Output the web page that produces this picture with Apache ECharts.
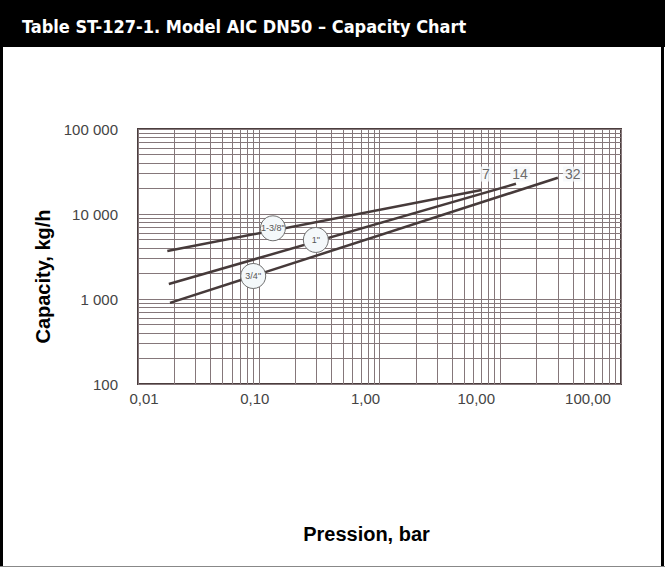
<!DOCTYPE html>
<html>
<head>
<meta charset="utf-8">
<script src="https://cdn.jsdelivr.net/npm/echarts@6/dist/echarts.min.js"></script>
<style>
html,body{margin:0;padding:0;background:#fff;}
#chart{width:665px;height:568px;}
</style>
</head>
<body>
<div id="chart"></div>
<script>
// ---- data ----
const titleText = 'Table ST-127-1. Model AIC DN50 – Capacity Chart';
const xAxisTitle = 'Pression, bar';
const yAxisTitle = 'Capacity, kg/h';
const xTicks = [0.01, 0.1, 1, 10, 100];
const xTickLabels = ['0,01', '0,10', '1,00', '10,00', '100,00'];
const yTicks = [100, 1000, 10000, 100000];
const yTickLabels = ['100', '1 000', '10 000', '100 000'];

const sizes = ['1-3/8"', '1"', '3/4"'];
const startPressure = [0.0175, 0.018, 0.0184];
const startCapacity = [3670, 1500, 900];
const endPressure = [7, 13.5, 30];
const endCapacity = [19150, 22700, 26700];
const sizeLabelPressure = [0.131, 0.297, 0.090];
const sizeLabelCapacity = [6790, 4950, 1865];
const maxPressureLabels = ['7', '14', '32'];
const maxLabelPressure = [7.6, 14.6, 39.8];
const maxLabelCapacity = [29500, 29500, 29500];

// label horizontal offsets (px) as printed in the reference
const xLabelShift = [6, -4, -14, -24, -33];

// ---- minor gridlines (2..9 per decade) ----
const minorX = [];
for (let e = -2; e < 2; e++) for (let m = 2; m <= 9; m++) minorX.push(m * Math.pow(10, e));
const minorY = [];
for (let e = 2; e < 5; e++) for (let m = 2; m <= 9; m++) minorY.push(m * Math.pow(10, e));

const gridColor = '#85777a';
const lineColor = '#463a3a';
const labelFont = 'Liberation Sans, Arial, sans-serif';

const chart = echarts.init(document.getElementById('chart'), null, {renderer: 'svg'});

const rich = {};
xLabelShift.forEach((s, i) => {
  rich['l' + i] = {
    fontFamily: labelFont,
    fontSize: 15,
    color: '#444',
    padding: s >= 0 ? [0, 0, 0, 2 * s] : [0, -2 * s, 0, 0]
  };
});

function fmtX(v) {
  for (let i = 0; i < xTicks.length; i++) {
    if (Math.abs(Math.log10(v) - Math.log10(xTicks[i])) < 1e-6) return '{l' + i + '|' + xTickLabels[i] + '}';
  }
  return '';
}
function fmtY(v) {
  for (let i = 0; i < yTicks.length; i++) {
    if (Math.abs(Math.log10(v) - Math.log10(yTicks[i])) < 1e-6) return yTickLabels[i];
  }
  return '';
}

const series = [];
series.push({
  type: 'line',
  data: [],
  silent: true,
  markLine: {
    silent: true,
    symbol: 'none',
    label: {show: false},
    animation: false,
    lineStyle: {color: gridColor, width: 1, type: 'solid'},
    data: minorX.map(v => ({xAxis: v})).concat(minorY.map(v => ({yAxis: v})))
  }
});
sizes.forEach((s, i) => {
  series.push({
    type: 'line',
    name: s,
    data: [[startPressure[i], startCapacity[i]], [endPressure[i], endCapacity[i]]],
    showSymbol: false,
    symbol: 'none',
    lineStyle: {color: lineColor, width: 2.5},
    z: 5,
    animation: false
  });
});
series.push({
  type: 'scatter',
  data: sizes.map((s, i) => ({name: s, value: [sizeLabelPressure[i], sizeLabelCapacity[i]]})),
  symbol: 'circle',
  symbolSize: 25,
  itemStyle: {color: '#f4f8fa', borderColor: '#6f6f6f', borderWidth: 1, opacity: 1},
  label: {
    show: true, position: 'inside', formatter: p => p.name,
    fontFamily: labelFont, fontSize: 9, color: '#555'
  },
  z: 10,
  animation: false
});
series.push({
  type: 'scatter',
  data: maxPressureLabels.map((s, i) => ({name: s, value: [maxLabelPressure[i], maxLabelCapacity[i]]})),
  symbolSize: 0,
  label: {
    show: true, position: 'inside', formatter: p => p.name,
    fontFamily: labelFont, fontSize: 14, color: '#444',
    backgroundColor: '#f5f8fa', padding: [1, 2, 0, 2]
  },
  z: 10,
  animation: false
});

chart.setOption({
  animation: false,
  backgroundColor: '#fff',
  title: {
    text: titleText,
    left: 17, top: 12,
    textStyle: {
      color: '#fff', fontSize: 18, fontWeight: 'bold',
      fontFamily: 'Liberation Sans Narrow, DejaVu Sans Condensed, Roboto, Liberation Sans, sans-serif'
    }
  },
  graphic: [
    {type: 'rect', shape: {x: 0, y: 0, width: 665, height: 47}, style: {fill: '#000'}, z: -10},
    {type: 'line', shape: {x1: 1.5, y1: 47, x2: 1.5, y2: 566}, style: {stroke: '#000', lineWidth: 3}},
    {type: 'line', shape: {x1: 662.5, y1: 47, x2: 662.5, y2: 566}, style: {stroke: '#000', lineWidth: 3}},
    {type: 'line', shape: {x1: 0, y1: 566.5, x2: 665, y2: 566.5}, style: {stroke: '#888', lineWidth: 1}}
  ],
  grid: {
    left: 138, right: 44, top: 129, bottom: 184,
    show: true, borderColor: '#4a3d3d', borderWidth: 2, backgroundColor: 'transparent',
    containLabel: false
  },
  xAxis: {
    type: 'log', logBase: 10, min: 0.01, max: 100,
    name: xAxisTitle, nameLocation: 'middle', nameGap: 140,
    nameTextStyle: {
      fontFamily: labelFont, fontSize: 20, fontWeight: 'bold', color: '#000',
      padding: [0, 26, 0, 0]
    },
    axisLine: {show: false},
    axisTick: {show: false},
    axisLabel: {formatter: fmtX, rich: rich, margin: 7, showMinLabel: true, showMaxLabel: true},
    splitLine: {show: true, lineStyle: {color: gridColor, width: 1}},
    minorSplitLine: {show: false}
  },
  yAxis: {
    type: 'log', logBase: 10, min: 100, max: 100000,
    name: yAxisTitle, nameLocation: 'middle', nameGap: 84, nameRotate: 90,
    nameTextStyle: {
      fontFamily: labelFont, fontSize: 20, fontWeight: 'bold', color: '#000',
      padding: [0, 40, 0, 0]
    },
    axisLine: {show: false},
    axisTick: {show: false},
    axisLabel: {
      formatter: fmtY, margin: 20,
      fontFamily: labelFont, fontSize: 15, color: '#444'
    },
    splitLine: {show: true, lineStyle: {color: gridColor, width: 1}}
  },
  series: series
});
</script>
</body>
</html>
